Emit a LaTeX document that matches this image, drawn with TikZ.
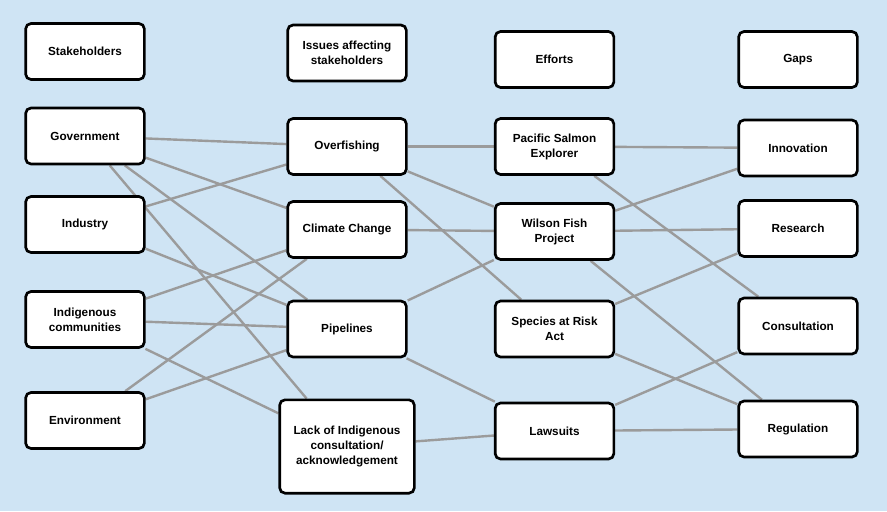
\documentclass[tikz,border=0pt]{standalone}
\usepackage{fontspec}
\setmainfont{Liberation Sans}
\usetikzlibrary{backgrounds}
\definecolor{map_bg}{RGB}{207, 228, 244}
\definecolor{map_link}{RGB}{155, 155, 155}

\begin{document}
\begin{tikzpicture}[x=0.75pt, y=-0.75pt,
  box/.style={draw, line width=2pt, rounded corners=4pt, fill=white,
    minimum width=89pt, minimum height=42pt, align=center,
    font=\fontsize{8.8}{11.2}\selectfont\bfseries},
  link/.style={draw=map_link, line width=1.8pt}]
\useasboundingbox (0,0) rectangle (887,511);

% column 1
\node[box] (stake) at (85,51.5) {Stakeholders};
\node[box] (gov) at (85,136) {Government};
\node[box] (ind) at (85,224.5) {Industry};
\node[box] (indig) at (85,319.5) {Indigenous\\communities};
\node[box] (env) at (85,420.5) {Environment};

% column 2
\node[box] (issues) at (347,53) {Issues affecting\\stakeholders};
\node[box] (over) at (347,146.5) {Overfishing};
\node[box] (clim) at (347,229.5) {Climate Change};
\node[box] (pipe) at (347,329) {Pipelines};
\node[box, minimum width=101pt, minimum height=70pt] (lack) at (347,446.5)
  {Lack of Indigenous\\consultation/\\acknowledgement};

% column 3
\node[box] (efforts) at (554.5,59.5) {Efforts};
\node[box] (pse) at (554.5,146.5) {Pacific Salmon\\Explorer};
\node[box] (wfp) at (554.5,231.5) {Wilson Fish\\Project};
\node[box] (sara) at (554.5,329) {Species at Risk\\Act};
\node[box] (laws) at (554.5,431) {Lawsuits};

% column 4
\node[box] (gaps) at (798,59.5) {Gaps};
\node[box] (innov) at (798,148) {Innovation};
\node[box] (res) at (798,228.5) {Research};
\node[box] (cons) at (798,326) {Consultation};
\node[box] (reg) at (798,429) {Regulation};

\begin{pgfonlayer}{background}
\fill[map_bg] (0,0) rectangle (887,511);
\foreach \a/\b in {gov/over, gov/clim, gov/pipe, gov/lack,
    ind/over, ind/pipe, indig/clim, indig/pipe, indig/lack,
    env/clim, env/pipe,
    over/pse, over/wfp, over/sara, clim/wfp, pipe/wfp, pipe/laws, lack/laws,
    pse/innov, pse/cons, wfp/innov, wfp/res, wfp/reg,
    sara/res, sara/reg, laws/cons, laws/reg}
  \draw[link] (\a) -- (\b);
\end{pgfonlayer}
\end{tikzpicture}
\end{document}
